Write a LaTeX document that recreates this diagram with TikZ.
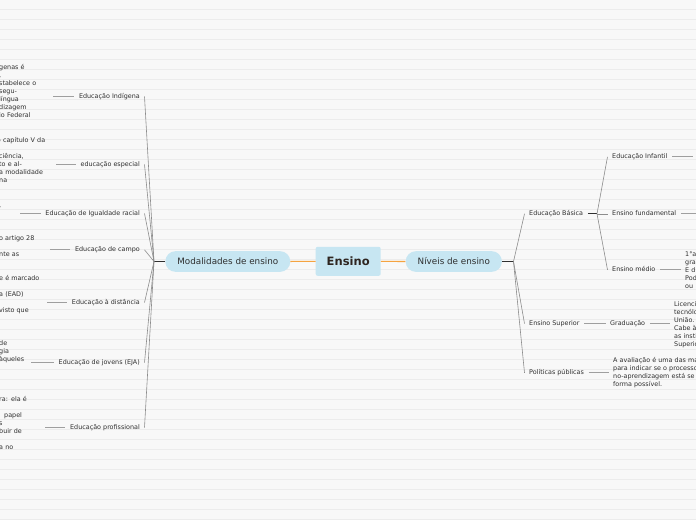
\documentclass[tikz,border=0pt]{standalone}
\usepackage{fontspec}
\setmainfont{DejaVu Sans}
\usepackage{tikz}
\usetikzlibrary{calc, positioning}
\usepackage{xcolor}
\definecolor{paper}{HTML}{F8F8F8}
\definecolor{ruling}{HTML}{ECECEC}
\definecolor{topicBlue}{HTML}{C7E6F2}
\definecolor{rootLink}{HTML}{F5A340}
\definecolor{inkText}{HTML}{2F2F2F}
\definecolor{rootInk}{HTML}{2E2520}
\newcommand{\leaffont}{\fontsize{6.4}{8}\selectfont}

\tikzset{
  rootbox/.style={fill=topicBlue, rounded corners=2pt, minimum width=65pt,
    minimum height=29pt, inner sep=0pt, text=rootInk,
    font=\fontsize{11.5}{13}\selectfont\bfseries},
  topic/.style={fill=topicBlue, rounded corners=10.3pt, minimum height=20.7pt,
    inner xsep=12pt, inner ysep=0pt, text=inkText,
    font=\fontsize{8.8}{10}\selectfont},
  subtopic/.style={inner xsep=4.5pt, inner ysep=1pt, text height=4.8pt,
    text depth=1.4pt, text=inkText, font=\leaffont},
  note/.style={inner xsep=4.5pt, inner ysep=0pt, text=inkText, align=left,
    font=\leaffont},
  rootlink/.style={draw=rootLink, line width=1.2pt},
  hubline/.style={draw=inkText, line width=1.1pt},
  fanline/.style={draw=gray!90, line width=0.6pt},
  twig/.style={draw=gray!75, line width=0.8pt},
}

\begin{document}
\begin{tikzpicture}[x=1pt, y=-1pt]
  % Paper with ruled lines
  \useasboundingbox (0,0) rectangle (696,520);
  \fill[paper] (0,0) rectangle (696,520);
  \foreach \y in {9.5,19.5,...,519.5}
    \draw[ruling, line width=0.6pt] (0,\y) -- (696,\y);

  % Central topic and main branches
  \node[rootbox] (ensino) at (348.2,261.3) {Ensino};
  \node[topic] (modal) at (227.8,261.5) {Modalidades de ensino};
  \node[topic] (niveis) at (453.8,261.5) {Níveis de ensino};
  \coordinate (hubM) at (154,261.5);
  \coordinate (hubN) at (513.5,261.5);

  % Modalidades de ensino
  \node[subtopic, anchor=east] (ind) at (144.5,96.5) {Educação Indígena};
  \node[subtopic, anchor=east] (esp) at (144.5,164.5) {educação especial};
  \node[subtopic, anchor=east] (igu) at (144.5,213.5) {Educação de Igualdade racial};
  \node[subtopic, anchor=east] (cam) at (144.5,249.8) {Educação de campo};
  \node[subtopic, anchor=east] (dis) at (144.5,302.5) {Educação à distância};
  \node[subtopic, anchor=east] (eja) at (144.5,362.5) {Educação de jovens (EJA)};
  \node[subtopic, anchor=east] (pro) at (144.5,427.5) {Educação profissional};

  \node[note, anchor=north west, text width=49.5pt] (indNote) at (-5.5,64)
    {\strut genas é\\ ,\\ stabelece o\\ segu-\\ língua\\ dizagem\\ io Federal};
  \node[note, anchor=north west, text width=52.5pt] (espNote) at (-5.5,137)
    {\strut\hspace*{-2.2pt}o capítulo V da\\[8pt] ciência,\\ to e al-\\ a modalidade\\ na};
  \node[note, anchor=north west, text width=16.5pt] (iguNote) at (-5.5,202)
    {\strut ,};
  \node[note, anchor=north west, text width=46.5pt] (camNote) at (-5.5,234.3)
    {\strut o artigo 28\\[8pt] nte as};
  \node[note, anchor=north west, text width=43.5pt] (disNote) at (-5.5,274.3)
    {\strut e é marcado\\[8pt] a (EAD)\\[8pt] visto que};
  \node[note, anchor=north west, text width=27.5pt] (ejaNote) at (-5.5,339.7)
    {\strut de\\ gia\\ àqueles};
  \node[note, anchor=north west, text width=41.5pt] (proNote) at (-5.5,395.3)
    {\strut ra: ela é\\[8pt] \hspace*{5pt}papel\\ s\\ buir de\\[8pt] a no};

  % Níveis de ensino
  \node[subtopic, anchor=west] (bas) at (524.5,213.8) {Educação Básica};
  \node[subtopic, anchor=west] (sup) at (524.5,323.5) {Ensino Superior};
  \node[subtopic, anchor=west] (pol) at (524.5,372.8) {Políticas públicas};
  \coordinate (hubB) at (597,213.8);
  \node[subtopic, anchor=west] (inf) at (607.5,156.8) {Educação Infantil};
  \node[subtopic, anchor=west] (fun) at (607.5,213.8) {Ensino fundamental};
  \node[subtopic, anchor=west] (med) at (607.5,269.8) {Ensino médio};
  \node[subtopic, anchor=west] (gra) at (605.5,323.5) {Graduação};
  \coordinate (infEnd) at (693,156.8);
  \coordinate (funEnd) at (700,213.8);

  \node[note, anchor=north west, text width=40pt] (medNote) at (680.5,250.5)
    {\strut 1°a\\ gra\\ E d\\ Pod\\ ou};
  \node[note, anchor=north west, text width=60pt] (supNote) at (669.5,300.5)
    {\strut Licencia\\ tecnólo\\ União.\\ Cabe à\\ as insti\\ Superio};
  \node[note, anchor=north west, text width=130pt] (polNote) at (608.5,356.5)
    {\strut A avaliação é uma das ma\\ para indicar se o processo\\
     no-aprendizagem está se\\ forma possível.};

  % Connectors
  \draw[rootlink] (modal) -- (ensino);
  \draw[rootlink] (ensino) -- (niveis);
  \draw[hubline] (modal.west) -- (hubM);
  \draw[hubline] (niveis.east) -- (hubN);
  \draw[hubline] (bas.east) -- (hubB);
  \foreach \k in {ind,esp,igu,cam,dis,eja,pro}
    \draw[fanline] (hubM) -- (\k.east);
  \foreach \k in {bas,sup,pol}
    \draw[fanline] (hubN) -- (\k.west);
  \foreach \k in {inf,fun,med}
    \draw[fanline] (hubB) -- (\k.west);
  \foreach \k in {ind,esp,igu,cam,dis,eja,pro}
    \draw[twig] (\k Note.east |- \k.west) -- (\k.west);
  \draw[twig] (inf.east) -- (infEnd);
  \draw[twig] (fun.east) -- (funEnd);
  \draw[twig] (med.east) -- (medNote.west |- med.east);
  \draw[twig] (sup.east) -- (gra.west);
  \draw[twig] (gra.east) -- (supNote.west |- gra.east);
  \draw[twig] (pol.east) -- (polNote.west |- pol.east);
\end{tikzpicture}
\end{document}
